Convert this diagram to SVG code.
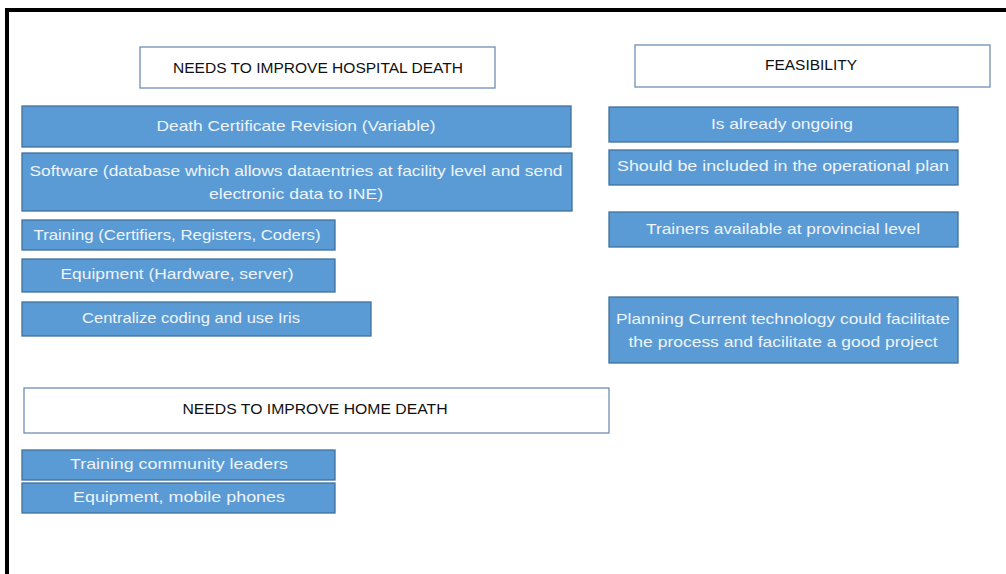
<svg xmlns="http://www.w3.org/2000/svg" width="1006" height="574" viewBox="0 0 1006 574">
<style>
.hdr{fill:#fff;stroke:#6f8fb4;stroke-width:1.3}
.box{fill:#5b9bd5;stroke:#41719c;stroke-width:1.3}
.ht{font-family:"Liberation Sans",Arial,sans-serif;font-size:14.5px;fill:#111;text-anchor:middle}
.bt{font-family:"Liberation Sans",Arial,sans-serif;font-size:15px;fill:#eef4fb;text-anchor:middle}
</style>
<rect width="1006" height="574" fill="#fff"/>
<g id="frame">
<line x1="5" y1="10" x2="1006" y2="10" stroke="#000" stroke-width="4"/>
<line x1="7" y1="8" x2="7" y2="574" stroke="#000" stroke-width="4"/>
</g>
<g id="connectors"></g>
<g id="hospital-header"><rect class="hdr" x="140" y="47" width="355" height="41"/><text class="ht" x="318" y="73" textLength="290" lengthAdjust="spacingAndGlyphs">NEEDS TO IMPROVE HOSPITAL DEATH</text></g>
<g id="feasibility-header"><rect class="hdr" x="635" y="45" width="355" height="42"/><text class="ht" x="811" y="70" textLength="92" lengthAdjust="spacingAndGlyphs">FEASIBILITY</text></g>
<g id="death-cert"><rect class="box" x="22" y="106" width="549" height="41"/><text class="bt" x="296" y="131" textLength="279" lengthAdjust="spacingAndGlyphs">Death Certificate Revision (Variable)</text></g>
<g id="software"><rect class="box" x="22" y="153" width="550" height="58"/><text class="bt" x="296" y="176" textLength="533" lengthAdjust="spacingAndGlyphs">Software (database which allows dataentries at facility level and send</text><text class="bt" x="296" y="199" textLength="174" lengthAdjust="spacingAndGlyphs">electronic data to INE)</text></g>
<g id="training"><rect class="box" x="22" y="220" width="313" height="30"/><text class="bt" x="177" y="240" textLength="287" lengthAdjust="spacingAndGlyphs">Training (Certifiers, Registers, Coders)</text></g>
<g id="equipment"><rect class="box" x="22" y="259" width="313" height="33"/><text class="bt" x="177" y="279" textLength="233" lengthAdjust="spacingAndGlyphs">Equipment (Hardware, server)</text></g>
<g id="centralize"><rect class="box" x="22" y="302" width="349" height="34"/><text class="bt" x="191" y="323" textLength="218" lengthAdjust="spacingAndGlyphs">Centralize coding and use Iris</text></g>
<g id="home-header"><rect class="hdr" x="24" y="388" width="585" height="45"/><text class="ht" x="315" y="414" textLength="265" lengthAdjust="spacingAndGlyphs">NEEDS TO IMPROVE HOME DEATH</text></g>
<g id="training-community"><rect class="box" x="22" y="450" width="313" height="30"/><text class="bt" x="179" y="469" textLength="218" lengthAdjust="spacingAndGlyphs">Training community leaders</text></g>
<g id="equipment-mobile"><rect class="box" x="22" y="483" width="313" height="30"/><text class="bt" x="179" y="502" textLength="212" lengthAdjust="spacingAndGlyphs">Equipment, mobile phones</text></g>
<g id="ongoing"><rect class="box" x="609" y="107" width="349" height="35"/><text class="bt" x="782" y="129" textLength="142" lengthAdjust="spacingAndGlyphs">Is already ongoing</text></g>
<g id="operational"><rect class="box" x="609" y="150" width="349" height="35"/><text class="bt" x="783" y="171" textLength="332" lengthAdjust="spacingAndGlyphs">Should be included in the operational plan</text></g>
<g id="trainers"><rect class="box" x="609" y="212" width="349" height="35"/><text class="bt" x="783" y="234" textLength="274" lengthAdjust="spacingAndGlyphs">Trainers available at provincial level</text></g>
<g id="planning"><rect class="box" x="609" y="297" width="349" height="66"/><text class="bt" x="783" y="324" textLength="334" lengthAdjust="spacingAndGlyphs">Planning Current technology could facilitate</text><text class="bt" x="783" y="347" textLength="309" lengthAdjust="spacingAndGlyphs">the process and facilitate a good project</text></g>
</svg>
